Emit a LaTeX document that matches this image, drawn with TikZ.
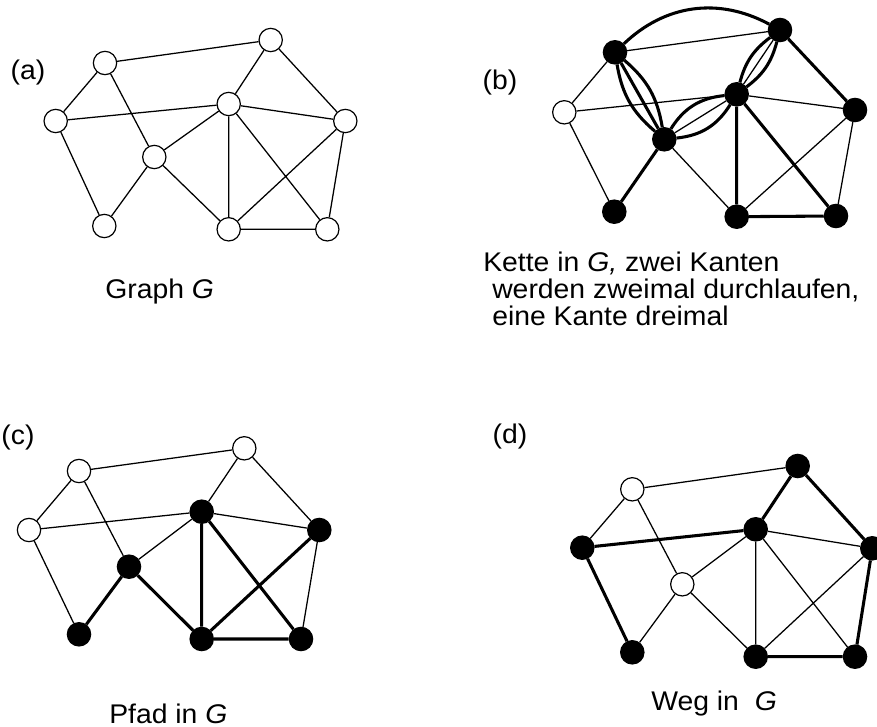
\documentclass[tikz,border=0pt]{standalone}
\usepackage{fontspec}
\setmainfont{Liberation Sans}[FakeStretch=1.05]
\begin{document}
\begin{tikzpicture}[x=0.75pt,y=-0.75pt,
  vw/.style={circle,draw,line width=0.9pt,fill=white,minimum size=17.5pt,inner sep=0pt},
  vb/.style={vw,fill=black},
  e/.style={line width=0.95pt},
  et/.style={line width=2.3pt},
  lens/.style={line width=2.3pt},
  lbl/.style={font=\fontsize{20.25}{24}\selectfont,inner sep=0pt}]
\useasboundingbox (0,0) rectangle (877,727);

% ---------- (a) ----------
\node[vw] (a1) at (105,63) {};
\node[vw] (a2) at (270.7,40) {};
\node[vw] (a3) at (55.7,121) {};
\node[vw] (a4) at (228.7,104) {};
\node[vw] (a5) at (345.3,121) {};
\node[vw] (a6) at (154.3,157) {};
\node[vw] (a7) at (104.3,226) {};
\node[vw] (a8) at (228.7,229.3) {};
\node[vw] (a9) at (327.3,229.3) {};
\draw[e] (a1)--(a2) (a1)--(a3) (a1)--(a6) (a3)--(a4) (a3)--(a7) (a7)--(a6)
  (a2)--(a4) (a2)--(a5) (a4)--(a5) (a4)--(a6) (a4)--(a8) (a4)--(a9)
  (a6)--(a8) (a5)--(a8) (a5)--(a9) (a8)--(a9);

% ---------- (b) ----------
\node[vb] (b1) at (615,52.3) {};
\node[vb] (b2) at (780,30) {};
\node[vw] (b3) at (564.3,112.3) {};
\node[vb] (b4) at (736.7,94.3) {};
\node[vb] (b5) at (855,110) {};
\node[vb] (b6) at (664.3,139.3) {};
\node[vb] (b7) at (614.3,211.7) {};
\node[vb] (b8) at (736.7,216.7) {};
\node[vb] (b9) at (836,216) {};
\draw[e] (b1)--(b2) (b1)--(b3) (b3)--(b4) (b3)--(b7) (b2)--(b4) (b4)--(b5)
  (b4)--(b6) (b6)--(b8) (b5)--(b8) (b5)--(b9);
\draw[et] (b1)--(b6) (b2)--(b5) (b4)--(b8) (b4)--(b9) (b6)--(b7) (b8)--(b9);
\draw[lens] (b1) to[bend left=20] (b6);
\draw[lens] (b1) to[bend right=20] (b6);
\draw[lens] (b6) to[bend left=26] (b4);
\draw[lens] (b6) to[bend right=26] (b4);
\draw[lens] (b4) to[bend left=19] (b2);
\draw[lens] (b4) to[bend right=19] (b2);
\draw[lens] (b1) to[bend left=36] (b2);

% ---------- (c) ----------
\node[vw] (c1) at (79,471) {};
\node[vw] (c2) at (244.3,448.3) {};
\node[vw] (c3) at (29,530) {};
\node[vb] (c4) at (201.7,511.7) {};
\node[vb] (c5) at (319.3,530) {};
\node[vb] (c6) at (129,566.7) {};
\node[vb] (c7) at (79,634.3) {};
\node[vb] (c8) at (201.7,639) {};
\node[vb] (c9) at (301,639) {};
\draw[e] (c1)--(c2) (c1)--(c3) (c1)--(c6) (c3)--(c4) (c3)--(c7) (c2)--(c4)
  (c2)--(c5) (c4)--(c5) (c4)--(c6) (c5)--(c9);
\draw[et] (c7)--(c6) (c6)--(c8) (c4)--(c8) (c4)--(c9) (c5)--(c8) (c8)--(c9);

% ---------- (d) ----------
\node[vw] (d1) at (632.3,489.3) {};
\node[vb] (d2) at (797.7,466) {};
\node[vb] (d3) at (582.3,547.7) {};
\node[vb] (d4) at (755.7,529.3) {};
\node[vb] (d5) at (872.3,548.3) {};
\node[vw] (d6) at (682.3,584.3) {};
\node[vb] (d7) at (632.3,652.3) {};
\node[vb] (d8) at (755.7,656.7) {};
\node[vb] (d9) at (855,656.7) {};
\draw[e] (d1)--(d2) (d1)--(d3) (d1)--(d6) (d7)--(d6) (d4)--(d5) (d4)--(d6)
  (d4)--(d8) (d4)--(d9) (d6)--(d8) (d5)--(d8);
\draw[et] (d3)--(d4) (d4)--(d2) (d2)--(d5) (d5)--(d9) (d9)--(d8) (d3)--(d7);

% ---------- labels ----------
\node[lbl] (la) at (28,72.5) {(a)};
\node[lbl] (lb) at (500,83) {(b)};
\node[lbl] (lc) at (18,438) {(c)};
\node[lbl] (ld) at (510,437) {(d)};
\node[lbl,anchor=base west] (ta) at (105,298) {Graph \textit{G}};
\node[lbl,anchor=base west] (tb1) at (483,272) {Kette in \textit{G,} zwei Kanten};
\node[lbl,anchor=base west] (tb2) at (492,298.5) {werden zweimal durchlaufen,};
\node[lbl,anchor=base west] (tb3) at (492,325) {eine Kante dreimal};
\node[lbl,anchor=base west] (tc) at (109,723) {Pfad in \textit{G}};
\node[lbl,anchor=base west] (td) at (651,710) {Weg in \ \textit{G}};
\end{tikzpicture}
\end{document}
